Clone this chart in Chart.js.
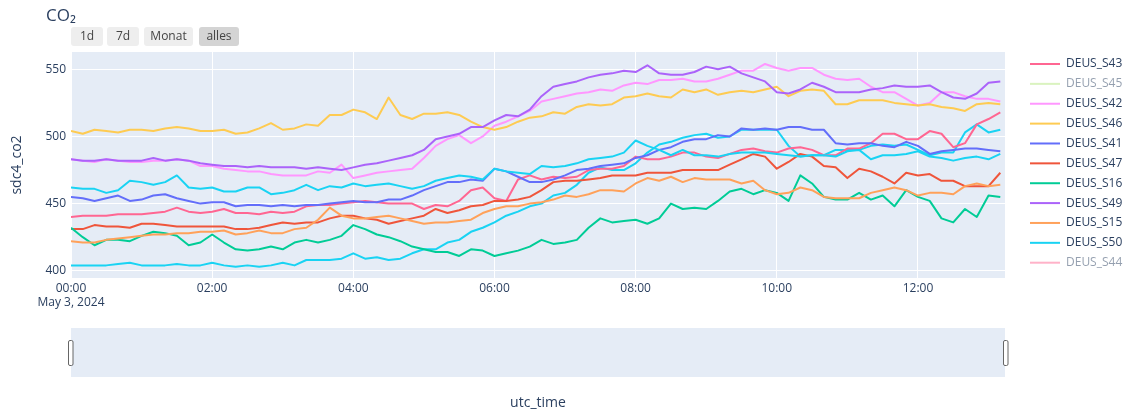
<!DOCTYPE html>
<html>
<head>
<meta charset="utf-8">
<script src="https://cdn.jsdelivr.net/npm/chart.js@4.4.1/dist/chart.umd.min.js"></script>
<style>
  body { margin: 0; background: #fff; }
  canvas { display: block; }
</style>
</head>
<body>
<canvas id="chart" width="1140" height="417"></canvas>
<script>
// sample times (utc), 3 May 2024
const times = [
  "00:00","00:10","00:20","00:30","00:40","00:50","01:00","01:10","01:20","01:30","01:40","01:50",
  "02:00","02:10","02:20","02:30","02:40","02:50","03:00","03:10","03:20","03:30","03:40","03:50",
  "04:00","04:10","04:20","04:30","04:40","04:50","05:00","05:10","05:20","05:30","05:40","05:50",
  "06:00","06:10","06:20","06:30","06:40","06:50","07:00","07:10","07:20","07:30","07:40","07:50",
  "08:00","08:10","08:20","08:30","08:40","08:50","09:00","09:10","09:20","09:30","09:40","09:50",
  "10:00","10:10","10:20","10:30","10:40","10:50","11:00","11:10","11:20","11:30","11:40","11:50",
  "12:00","12:10","12:20","12:30","12:40","12:50","13:00","13:10"
];
const xEnd = "13:14";
const xTicks = ["00:00","02:00","04:00","06:00","08:00","10:00","12:00"];
const dateLabel = "May 3, 2024";
const yTicks = [400, 450, 500, 550];

const s43 = [440,441,441,441,442,442,442,443,444,447,444,443,444,446,443,443,442,444,443,444,448,449,449,450,451,452,451,450,
  450,450,446,449,448,452,460,462,454,452,468,471,468,470,469,470,475,476,476,478,485,483,483,485,488,488,
  485,484,487,490,491,489,488,491,492,490,486,486,491,491,495,502,502,498,498,504,502,492,495,509,513,518];
const s42 = [483,482,481,483,482,481,481,482,482,483,482,478,478,476,475,474,474,472,471,471,471,474,473,479,469,471,473,474,
  475,476,484,493,498,501,495,500,508,511,515,519,526,528,530,532,533,535,534,538,540,539,542,542,543,541,
  541,543,546,549,549,554,551,549,551,551,546,543,542,543,537,533,533,528,523,525,533,533,530,528,528,526];
const s46 = [504,502,505,504,503,505,505,504,506,507,506,504,504,505,502,503,506,510,505,506,509,508,516,516,520,518,513,529,
  516,513,517,517,518,516,511,507,505,507,511,514,515,518,517,522,524,523,524,529,530,532,530,529,535,533,
  535,531,533,534,533,535,537,530,534,535,534,524,524,527,527,527,525,524,523,524,522,521,519,524,525,524];
const s41 = [455,454,452,454,456,452,453,456,457,454,452,450,451,451,448,449,449,448,449,448,449,449,450,451,452,451,451,453,
  453,456,460,463,466,466,468,467,476,474,470,466,466,468,471,475,476,478,479,480,484,486,490,492,496,498,
  498,501,500,506,505,506,505,507,507,505,505,495,494,495,495,493,492,496,493,487,489,490,491,491,490,489];
const s47 = [431,431,434,433,433,432,435,435,434,433,433,433,433,433,431,431,432,434,436,435,436,436,439,441,441,439,438,435,
  437,439,441,446,443,445,448,449,452,452,453,455,460,466,467,467,468,469,471,471,471,473,473,473,475,475,
  475,475,479,483,487,485,476,481,487,485,478,477,469,476,474,470,465,473,471,472,467,467,463,463,463,473];
const s16 = [432,425,419,423,423,422,426,429,428,426,419,421,427,421,416,415,416,418,416,421,423,421,423,426,434,431,427,425,
  422,418,416,414,414,411,416,415,411,413,415,418,423,420,421,423,432,439,436,437,438,435,439,450,446,447,
  446,452,459,461,457,460,458,452,471,465,455,453,453,458,453,456,448,460,455,452,439,436,446,440,456,455];
const s49 = [483,482,482,483,482,482,482,484,482,483,482,480,479,478,478,477,478,477,477,477,476,477,476,475,477,479,480,482,
  484,486,490,498,500,502,507,507,512,516,515,520,530,537,539,541,544,546,547,549,548,553,547,546,546,548,
  552,550,552,547,544,541,533,532,535,540,537,533,533,533,535,536,538,537,537,538,533,529,528,532,540,541];
const s15 = [422,421,421,423,424,425,426,427,427,428,428,429,429,430,427,428,430,428,428,431,432,438,447,441,439,439,440,441,
  439,437,435,436,436,437,438,443,446,448,448,450,451,453,456,455,457,460,460,459,465,469,467,470,466,469,
  468,468,468,465,467,460,457,458,462,460,455,454,454,454,458,460,462,460,456,458,458,457,463,465,463,464];
const s50 = [462,461,461,458,460,467,466,464,466,471,462,461,462,459,459,462,462,457,458,460,464,460,463,462,465,463,464,465,
  463,461,463,467,469,471,470,468,476,474,473,472,478,477,478,480,483,484,485,488,497,493,490,486,490,486,
  486,485,487,488,488,488,487,486,485,486,486,485,489,490,483,486,486,487,489,485,484,482,484,485,483,487];
// second cyan trace, not listed in the visible legend
const sExtra = [404,404,404,404,405,406,404,404,404,405,404,404,406,404,403,404,403,404,406,404,408,408,408,409,413,409,410,408,
  409,413,416,416,421,423,429,432,436,441,444,448,450,456,458,464,473,477,475,475,480,488,494,496,499,501,
  502,499,500,505,505,505,505,493,485,486,486,490,490,490,493,494,493,494,490,486,488,488,503,509,503,505];

const toMin = s => parseInt(s.slice(0, 2)) * 60 + parseInt(s.slice(3));
const xs = times.map(toMin);

const series = [
  {label: "", values: sExtra, color: "#19D3F3", legend: false},
  {label: "DEUS_S43", values: s43, color: "#FF6692"},
  {label: "DEUS_S45", values: [], color: "#B6E880", hidden: true},
  {label: "DEUS_S42", values: s42, color: "#FF97FF"},
  {label: "DEUS_S46", values: s46, color: "#FECB52"},
  {label: "DEUS_S41", values: s41, color: "#636EFA"},
  {label: "DEUS_S47", values: s47, color: "#EF553B"},
  {label: "DEUS_S16", values: s16, color: "#00CC96"},
  {label: "DEUS_S49", values: s49, color: "#AB63FA"},
  {label: "DEUS_S15", values: s15, color: "#FFA15A"},
  {label: "DEUS_S50", values: s50, color: "#19D3F3"},
  {label: "DEUS_S44", values: [], color: "#FF6692", hidden: true}
];

const FONT = "'Open Sans', verdana, arial, sans-serif";
const TXT = "#2a3f5f";

const chrome = {
  id: 'chrome',
  beforeDraw(chart) {
    const {ctx, chartArea: a} = chart;
    ctx.save();
    ctx.fillStyle = '#E5ECF6';
    ctx.fillRect(a.left, a.top, a.right - a.left, a.bottom - a.top);
    // range slider background
    ctx.fillRect(a.left, 328, a.right - a.left, 49);
    ctx.restore();
  },
  afterDraw(chart) {
    const {ctx, chartArea: a} = chart;
    ctx.save();
    // title
    ctx.fillStyle = TXT;
    ctx.font = "17px " + FONT;
    ctx.textAlign = 'left';
    ctx.textBaseline = 'alphabetic';
    ctx.fillText("CO\u2082", 46, 21);

    // range selector buttons
    const buttons = [["1d", 71, 32], ["7d", 107, 32], ["Monat", 144, 49], ["alles", 199, 40]];
    ctx.font = "12px " + FONT;
    ctx.textAlign = 'center';
    ctx.textBaseline = 'middle';
    buttons.forEach(([t, x, w], i) => {
      ctx.fillStyle = i === 3 ? '#d4d4d4' : '#eeeeee';
      ctx.beginPath();
      ctx.roundRect(x, 27, w, 19, 3);
      ctx.fill();
      ctx.fillStyle = '#444';
      ctx.fillText(t, x + w / 2, 37);
    });

    // axis titles
    ctx.fillStyle = TXT;
    ctx.font = "14px " + FONT;
    ctx.fillText("utc_time", (a.left + a.right) / 2, 403);
    ctx.save();
    ctx.translate(17, (a.top + a.bottom) / 2);
    ctx.rotate(-Math.PI / 2);
    ctx.fillText("sdc4_co2", 0, 0);
    ctx.restore();

    // legend
    ctx.font = "12px " + FONT;
    ctx.textAlign = 'left';
    ctx.lineWidth = 2;
    let row = 0;
    series.forEach(s => {
      if (s.legend === false) return;
      const y = 64 + row * 19.87;
      ctx.globalAlpha = s.hidden ? 0.5 : 1;
      ctx.strokeStyle = s.color;
      ctx.beginPath();
      ctx.moveTo(1030, y);
      ctx.lineTo(1060, y);
      ctx.stroke();
      ctx.fillStyle = TXT;
      ctx.fillText(s.label, 1066, y);
      row++;
    });
    ctx.globalAlpha = 1;

    // range slider handles
    ctx.fillStyle = '#fff';
    ctx.strokeStyle = '#666';
    ctx.lineWidth = 1;
    [a.left - 3, a.right - 2].forEach(x => {
      ctx.beginPath();
      ctx.roundRect(x + 0.5, 340.5, 4.5, 25, 1.5);
      ctx.fill();
      ctx.stroke();
    });
    ctx.restore();
  }
};

Chart.defaults.font.family = FONT;
Chart.defaults.font.size = 12;
Chart.defaults.color = TXT;

new Chart(document.getElementById('chart').getContext('2d'), {
  type: 'line',
  data: {
    datasets: series.map((s, i) => ({
      label: s.label,
      data: s.values.map((v, j) => ({x: xs[j], y: v})),
      borderColor: s.color,
      backgroundColor: s.color,
      borderWidth: 2,
      pointRadius: 0,
      tension: 0,
      borderJoinStyle: 'round',
      hidden: !!s.hidden,
      order: series.length - i
    }))
  },
  options: {
    responsive: false,
    animation: false,
    layout: {padding: {left: 0, right: 135, top: 52, bottom: 0}},
    plugins: {legend: {display: false}, tooltip: {enabled: false}},
    scales: {
      x: {
        type: 'linear',
        min: 0,
        max: toMin(xEnd),
        afterBuildTicks: scale => { scale.ticks = xTicks.map(t => ({value: toMin(t)})); },
        afterFit: scale => { scale.height = 139; },
        ticks: {
          autoSkip: false,
          maxRotation: 0,
          padding: 3,
          color: TXT,
          callback: v => {
            const h = String(Math.floor(v / 60)).padStart(2, '0');
            const m = String(v % 60).padStart(2, '0');
            const lab = h + ":" + m;
            return v === 0 ? [lab, dateLabel] : lab;
          }
        },
        grid: {color: '#ffffff', lineWidth: 1, drawTicks: false},
        border: {display: false}
      },
      y: {
        min: 394.6,
        max: 562.9,
        afterBuildTicks: scale => { scale.ticks = yTicks.map(v => ({value: v})); },
        afterFit: scale => { scale.width = 71; },
        ticks: {padding: 5, color: TXT},
        grid: {color: '#ffffff', lineWidth: 1, drawTicks: false},
        border: {display: false}
      }
    }
  },
  plugins: [chrome]
});
</script>
</body>
</html>
